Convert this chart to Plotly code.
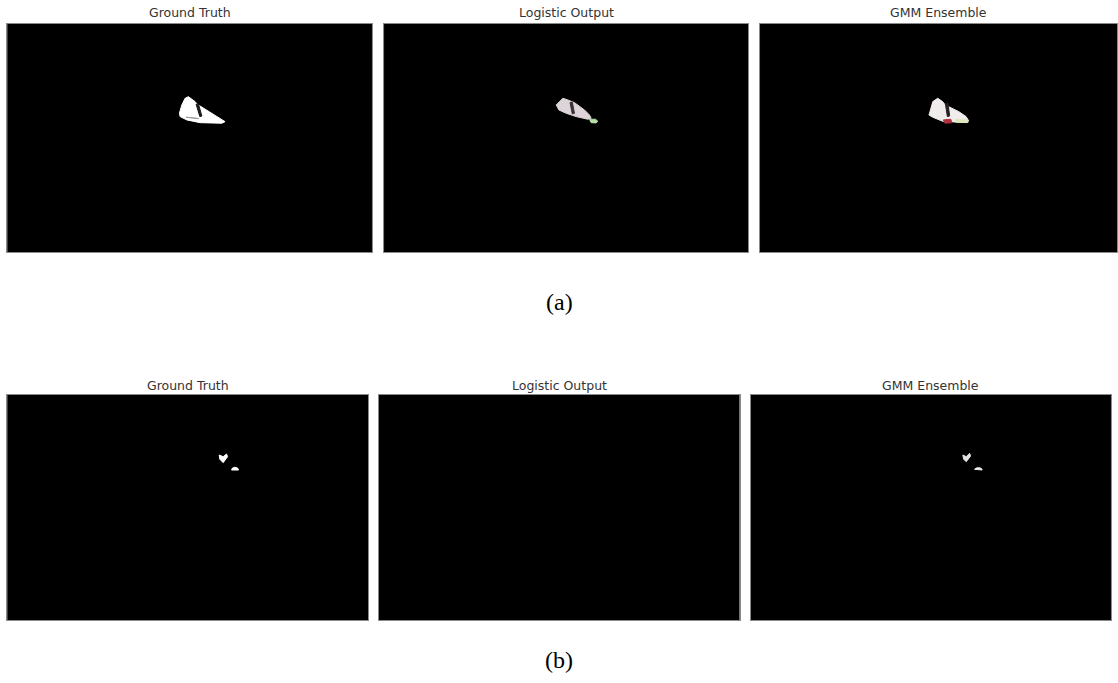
import plotly.graph_objects as go

W, H = 1118, 683
IMG_W, IMG_H = 640, 400

titles = ["Ground Truth", "Logistic Output", "GMM Ensemble"]
captions = ["(a)", "(b)"]

# ---- Row (a) masks, polygon outlines in image pixel coordinates ----
a_gt_x = [306.3, 312.1, 317.9, 329.6, 332.6, 338.4, 358.9, 370.5, 379.3, 382.2, 376.5, 338.4, 315.1, 303.3, 302.1]
a_gt_y = [142.0, 130.3, 127.5, 136.2, 140.3, 143.8, 156.6, 163.6, 168.3, 171.3, 174.1, 173.1, 168.3, 162.5, 156.6]
a_gt_notch_x = [331.4, 335.5, 341.5, 338.0]
a_gt_notch_y = [140.8, 140.3, 161.4, 162.6]
a_gt_gap_x = [314.0, 336.0, 336.0, 314.0]
a_gt_gap_y = [163.5, 165.0, 166.0, 164.5]

a_lr_x = [302.8, 314.4, 323.2, 334.9, 352.4, 361.2, 364.2, 358.2, 337.9, 320.3, 307.4]
a_lr_y = [142.0, 130.3, 133.3, 138.0, 150.8, 159.6, 165.3, 167.1, 162.5, 156.6, 150.8]
a_lr_notch_x = [327.0, 331.0, 334.8, 331.0]
a_lr_notch_y = [138.0, 136.8, 156.6, 157.8]
a_lr_tail_x = [361.2, 371.7, 375.8, 373.0, 364.2]
a_lr_tail_y = [167.1, 167.1, 170.6, 173.6, 173.1]

a_gmm_x = [303.9, 309.8, 318.6, 327.4, 331.9, 338.9, 356.5, 369.4, 374.0, 371.2, 344.9, 327.4, 309.8, 302.8]
a_gmm_y = [156.6, 136.2, 130.3, 136.2, 142.0, 145.0, 153.8, 162.5, 169.6, 173.1, 171.8, 170.6, 163.6, 159.6]
a_gmm_notch_x = [332.4, 336.8, 340.0, 335.9]
a_gmm_notch_y = [140.3, 139.0, 161.3, 162.5]
a_gmm_red_x = [328.6, 342.1, 343.8, 331.9]
a_gmm_red_y = [168.3, 167.1, 173.1, 174.1]
a_gmm_green_x = [350.7, 371.2, 373.0, 350.7]
a_gmm_green_y = [167.1, 168.3, 172.3, 172.3]

# ---- Row (b) masks ----
b_gt_heart_x = [375.9, 383.0, 389.0, 390.8, 383.0, 377.1]
b_gt_heart_y = [107.3, 110.3, 105.5, 110.3, 120.9, 114.9]
b_gt_dot_x = [397.9, 399.6, 403.7, 408.5, 410.3]
b_gt_dot_y = [133.9, 130.3, 129.1, 130.3, 133.9]

b_gmm_heart_x = [376.9, 383.0, 388.8, 390.6, 383.0, 378.2]
b_gmm_heart_y = [107.3, 110.3, 104.3, 109.0, 119.1, 114.9]
b_gmm_dot_x = [397.7, 400.7, 405.3, 409.5, 411.3]
b_gmm_dot_y = [132.6, 130.3, 129.8, 130.9, 133.9]

# ---- panel placement (paper fractions) ----
x_domains = [
    [[0.0065, 0.3327], [0.3435, 0.6691], [0.6798, 0.9991]],
    [[0.0065, 0.3292], [0.3390, 0.6615], [0.6715, 0.9937]],
]
y_domains = [[0.6310, 0.9649], [0.0922, 0.4224]]
title_y = [0.981, 0.4363]
caption_y = [0.558, 0.0337]

fig = go.Figure()


def poly(xs, ys, color, axis_idx, line_color=None):
    suffix = "" if axis_idx == 1 else str(axis_idx)
    fig.add_trace(go.Scatter(
        x=xs + [xs[0]], y=ys + [ys[0]], mode="lines", fill="toself",
        fillcolor=color, line=dict(color=line_color or color, width=1),
        hoverinfo="skip", showlegend=False,
        xaxis="x" + suffix, yaxis="y" + suffix,
    ))


# row a
poly(a_gt_x, a_gt_y, "#ffffff", 1)
poly(a_gt_notch_x, a_gt_notch_y, "#1a1a1a", 1)
poly(a_gt_gap_x, a_gt_gap_y, "#9a9a9a", 1)
poly(a_lr_x, a_lr_y, "#dcd4d8", 2)
poly(a_lr_notch_x, a_lr_notch_y, "#3a3236", 2)
poly(a_lr_tail_x, a_lr_tail_y, "#b8e0a8", 2)
poly(a_gmm_x, a_gmm_y, "#f0ecec", 3)
poly(a_gmm_notch_x, a_gmm_notch_y, "#241e20", 3)
poly(a_gmm_red_x, a_gmm_red_y, "#b03040", 3)
poly(a_gmm_green_x, a_gmm_green_y, "#dce8b8", 3)
# row b
poly(b_gt_heart_x, b_gt_heart_y, "#ffffff", 4)
poly(b_gt_dot_x, b_gt_dot_y, "#ffffff", 4)
# (Logistic output for row b is empty)
fig.add_trace(go.Scatter(x=[], y=[], xaxis="x5", yaxis="y5", showlegend=False))
poly(b_gmm_heart_x, b_gmm_heart_y, "#e4e2e2", 6)
poly(b_gmm_dot_x, b_gmm_dot_y, "#eeeeee", 6)

layout = dict(
    width=W, height=H, margin=dict(l=0, r=0, t=0, b=0),
    paper_bgcolor="white", plot_bgcolor="black", showlegend=False,
)
annotations = []
idx = 1
for r in range(2):
    for c in range(3):
        suffix = "" if idx == 1 else str(idx)
        common = dict(showgrid=False, zeroline=False, showticklabels=False, ticks="",
                      showline=True, mirror=True, linecolor="#8a8a8a", linewidth=1)
        layout["xaxis" + suffix] = dict(domain=x_domains[r][c], range=[0, IMG_W],
                                        anchor="y" + suffix, **common)
        layout["yaxis" + suffix] = dict(domain=y_domains[r], range=[IMG_H, 0],
                                        anchor="x" + suffix, **common)
        annotations.append(dict(
            text=titles[c], x=sum(x_domains[r][c]) / 2, y=title_y[r],
            xref="paper", yref="paper", showarrow=False, xanchor="center", yanchor="middle",
            font=dict(family="DejaVu Sans", size=12.5, color="#333333"),
        ))
        idx += 1
    annotations.append(dict(
        text=captions[r], x=0.5, y=caption_y[r], xref="paper", yref="paper",
        showarrow=False, xanchor="center", yanchor="middle",
        font=dict(family="Liberation Serif", size=24, color="#000000"),
    ))
layout["annotations"] = annotations
fig.update_layout(**layout)

fig.write_html(
    "out.html",
    config={"displayModeBar": False},
    post_script="document.body.style.margin='0';document.body.style.overflow='hidden';",
)
